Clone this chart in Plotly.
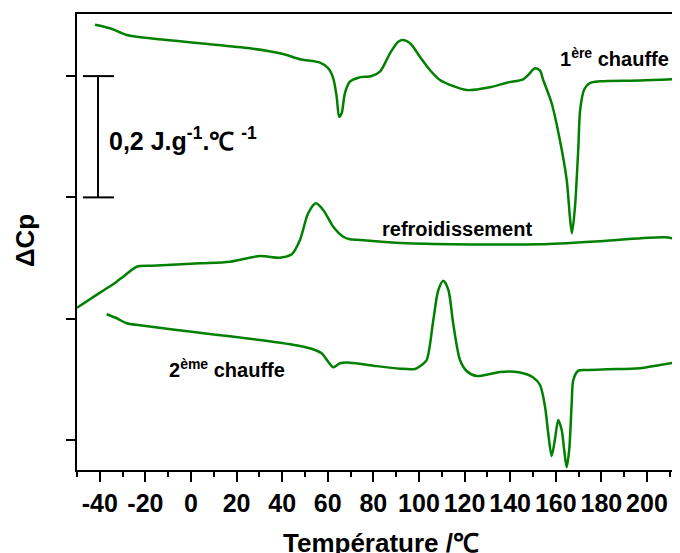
import plotly.graph_objects as go

# ---- data (temperature in degC, DeltaCp offset curves in J/g/degC) ----
temp_chauffe1 = [-42.1, -35.5, -28.2, -18.0, 3.9, 25.9, 40.4, 47.8, 56.6, 60.2, 62.4, 63.9, 65.0, 66.1,
                 67.5, 69.7, 73.4, 79.3, 82.9, 87.3, 90.9, 93.1, 96.1, 100.4, 104.8, 109.2, 120.9,
                 131.1, 138.5, 145.7, 147.9, 150.9, 153.1, 154.5, 158.2, 161.8, 164.8, 166.2, 167.1,
                 168.4, 169.9, 170.7, 172.4, 175.0, 179.4, 196.9, 214.5]
dcp_chauffe1 = [0.6848, 0.6788, 0.6678, 0.6623, 0.6541, 0.6458, 0.6364, 0.6277, 0.6221, 0.6129, 0.5964,
                0.5660, 0.5331, 0.5387, 0.5716, 0.5908, 0.5974, 0.6002, 0.6073, 0.6376, 0.6567, 0.6595,
                0.6541, 0.6320, 0.6101, 0.5936, 0.5771, 0.5815, 0.5891, 0.5947, 0.6018, 0.6129, 0.6089,
                0.5936, 0.5552, 0.4946, 0.4287, 0.3682, 0.3408, 0.3825, 0.4815, 0.5441, 0.5771, 0.5886,
                0.5914, 0.5927, 0.5952]

temp_refroid = [-50.0, -39.9, -32.6, -29.7, -23.8, -17.2, 3.9, 17.1, 30.3, 39.0, 44.2, 47.8, 51.4, 54.8,
                58.0, 62.4, 66.8, 69.7, 74.1, 94.6, 153.1, 182.3, 207.9, 214.5]
dcp_refroid = [0.2181, 0.2429, 0.2610, 0.2693, 0.2857, 0.2874, 0.2913, 0.2940, 0.3034, 0.3006, 0.3062,
               0.3298, 0.3738, 0.3903, 0.3792, 0.3517, 0.3352, 0.3309, 0.3298, 0.3243, 0.3227, 0.3286,
               0.3342, 0.3298]

temp_chauffe2 = [-37.0, -32.6, -28.2, -22.4, 3.9, 30.3, 47.8, 54.4, 57.3, 60.2, 62.4, 65.4, 69.7, 80.0,
                 91.7, 98.2, 101.2, 103.4, 106.3, 108.5, 110.7, 112.9, 115.0, 118.0, 120.9, 125.3,
                 131.1, 135.5, 144.3, 150.1, 153.1, 155.3, 156.7, 158.2, 159.6, 161.1, 162.6, 163.7,
                 164.8, 165.9, 167.0, 167.7, 169.9, 173.6, 182.3, 196.9, 205.7, 214.5]
dcp_chauffe2 = [0.2073, 0.2007, 0.1924, 0.1891, 0.1769, 0.1649, 0.1550, 0.1484, 0.1430, 0.1291, 0.1199,
                0.1265, 0.1275, 0.1225, 0.1176, 0.1171, 0.1237, 0.1319, 0.1979, 0.2473, 0.2627, 0.2473,
                0.1924, 0.1319, 0.1138, 0.1055, 0.1088, 0.1121, 0.1113, 0.1031, 0.0907, 0.0549, 0.0110,
                -0.0264, 0.0000, 0.0330, 0.0165, -0.0165, -0.0450, -0.0165, 0.0605, 0.0989, 0.1143,
                0.1154, 0.1166, 0.1182, 0.1237, 0.1291]

x_tick_vals = [-40, -20, 0, 20, 40, 60, 80, 100, 120, 140, 160, 180, 200]
x_tick_text = ["-40", "-20", "0", "20", "40", "60", "80", "100", "120", "140", "160", "180", "200"]
y_tick_vals = [0.0, 0.2, 0.4, 0.6]

scale_bar_x = -40.8
scale_bar_low, scale_bar_high = 0.4, 0.6
scale_cap_x0, scale_cap_x1 = -47.4, -33.8

GREEN = "#008000"
FONT = "Liberation Sans, Arial, sans-serif"

fig = go.Figure()
for t, d in [(temp_chauffe1, dcp_chauffe1), (temp_refroid, dcp_refroid), (temp_chauffe2, dcp_chauffe2)]:
    fig.add_trace(go.Scatter(x=t, y=d, mode="lines",
                             line=dict(color=GREEN, width=2.5, shape="spline", smoothing=0.8),
                             showlegend=False, hoverinfo="skip"))

# scale bar
fig.add_shape(type="line", xref="x", yref="y", x0=scale_bar_x, x1=scale_bar_x,
              y0=scale_bar_low, y1=scale_bar_high, line=dict(color="black", width=2))
for yy in (scale_bar_low, scale_bar_high):
    fig.add_shape(type="line", xref="x", yref="y", x0=scale_cap_x0, x1=scale_cap_x1,
                  y0=yy, y1=yy, line=dict(color="black", width=2))

bold = dict(family=FONT, color="black", weight="bold")

annots = [
    dict(x=-36.8, y=0.497, xref="x", yref="y", xanchor="left", yanchor="middle",
         text="0,2 J.g<sup>-1</sup>.℃ <sup>-1</sup>", font=dict(size=25, **bold)),
    dict(x=161.0, y=0.630, xref="x", yref="y", xanchor="left", yanchor="middle",
         text="1<sup>ère</sup> chauffe", font=dict(size=20, **bold)),
    dict(x=82.9, y=0.348, xref="x", yref="y", xanchor="left", yanchor="middle",
         text="refroidissement", font=dict(size=20, **bold)),
    dict(x=-10.5, y=0.118, xref="x", yref="y", xanchor="left", yanchor="middle",
         text="2<sup>ème</sup> chauffe", font=dict(size=20, **bold)),
    dict(x=-0.0862, y=0.502, xref="paper", yref="paper", xanchor="center", yanchor="middle",
         text="ΔCp", textangle=-90, font=dict(size=26, **bold)),
    dict(x=0.504, y=-0.160, xref="paper", yref="paper", xanchor="center", yanchor="middle",
         text="Température /℃", font=dict(size=26, **bold)),
]
for a in annots:
    fig.add_annotation(showarrow=False, **a)

# the page body has an 8px margin: shrink the figure so the plot lands where the reference has it
fig.update_layout(
    width=672, height=545,
    margin=dict(l=69, r=0, t=6, b=83),
    paper_bgcolor="white", plot_bgcolor="white",
    xaxis=dict(range=[-50, 214.5], tickvals=x_tick_vals, ticktext=x_tick_text, tickangle=0,
               ticks="outside", ticklen=10, tickwidth=2, tickcolor="black",
               showline=True, linewidth=2, linecolor="black", mirror=True,
               showgrid=False, zeroline=False,
               tickfont=dict(size=25, **bold),
               minor=dict(dtick=10, tick0=0, ticks="outside", ticklen=5, tickwidth=2, tickcolor="black")),
    yaxis=dict(range=[-0.0495, 0.7024], tickvals=y_tick_vals, showticklabels=False,
               ticks="outside", ticklen=9, tickwidth=2, tickcolor="black",
               showline=True, linewidth=2, linecolor="black", mirror=False,
               showgrid=False, zeroline=False),
)

fig.write_html("out.html")
